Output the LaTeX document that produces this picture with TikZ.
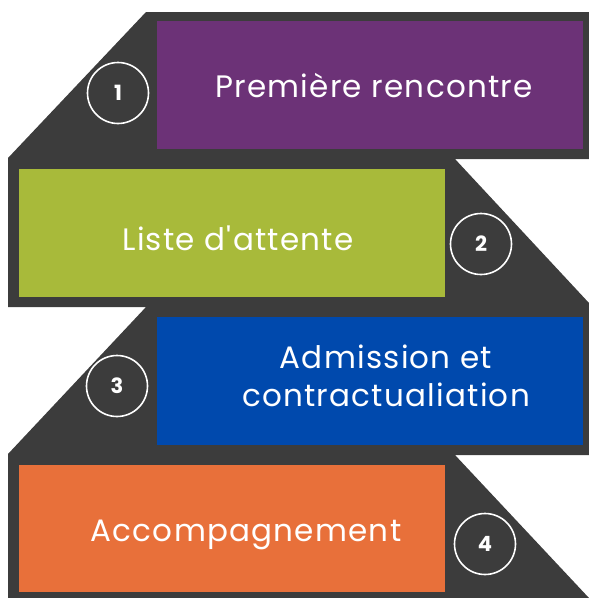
\documentclass[tikz,border=0pt]{standalone}
\usepackage{fontspec}
\setmainfont{Poppins}[LetterSpace=4,Ligatures=TeXOff]
\newfontfamily\numfont{Poppins}
\definecolor{darkbg}{HTML}{3C3C3C}
\definecolor{cpurple}{HTML}{6C3277}
\definecolor{cgreen}{HTML}{A8BA3A}
\definecolor{cblue}{HTML}{0049AD}
\definecolor{corange}{HTML}{E8703A}
\begin{document}
\begin{tikzpicture}[x=1pt,y=-1pt,
  label/.style={text=white,font=\fontsize{31}{38}\selectfont,align=center},
  numcirc/.style={circle,draw=white,line width=1.6pt,minimum size=61pt,inner sep=0pt,text=white,font=\numfont\bfseries\fontsize{21}{21}\selectfont}]
\useasboundingbox (0,0) rectangle (589,598);
\fill[darkbg] (146,12) -- (589,12) -- (589,159) -- (455,159) -- (589,303) -- (589,455) -- (455,455) -- (589,598) -- (8,598) -- (8,454) -- (146,307) -- (8,307) -- (8,158) -- cycle;
\fill[cpurple] (157,21) rectangle (583,149);
\fill[cgreen] (19,169) rectangle (445,297);
\fill[cblue] (157,317) rectangle (583,445);
\fill[corange] (19,465) rectangle (445,592);
\node[label] (t1) at (374,86) {Première rencontre};
\node[label] (t2) at (238,238) {Liste d'attente};
\node[label] (t3) at (386,376) {Admission et\\contractualiation};
\node[label] (t4) at (246,535) {Accompagnement};
\node[numcirc] (c1) at (118,93) {1};
\node[numcirc] (c2) at (481,244) {2};
\node[numcirc] (c3) at (117,386) {3};
\node[numcirc] (c4) at (485,544) {4};
\end{tikzpicture}
\end{document}
